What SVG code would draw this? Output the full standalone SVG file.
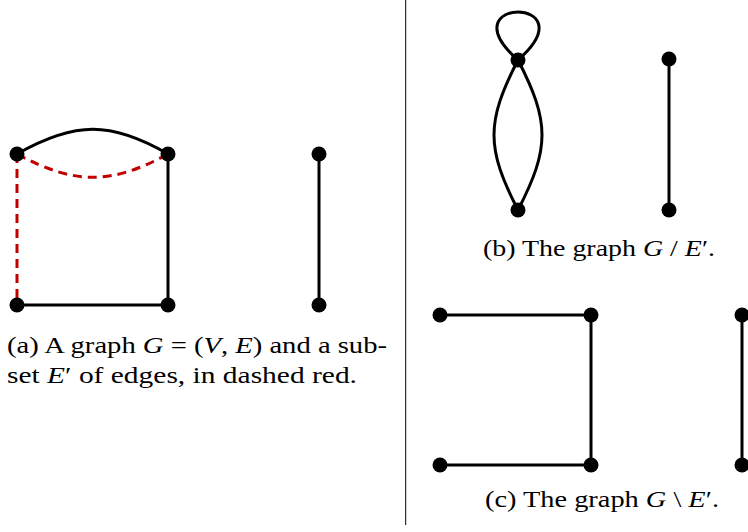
<svg xmlns="http://www.w3.org/2000/svg" width="748" height="532" viewBox="0 0 748 532">
<style>
.e{fill:none;stroke:#000;stroke-width:3}
.d{fill:none;stroke:#bf0000;stroke-width:3;stroke-dasharray:9 6}
.n{fill:#000}
.t{font-family:"Liberation Serif","DejaVu Serif",serif;font-size:23px;fill:#000}
.i{font-style:italic}
</style>
<rect width="748" height="532" fill="#fff"/>
<line x1="405.7" y1="0" x2="405.7" y2="525" stroke="#000" stroke-width="1"/>
<g id="connectors">
<path class="e" d="M17,154 C75,121 111,121 168,154"/>
<path class="d" d="M17,154 C75,185 111,185 168,154"/>
<path class="d" d="M17,154 L17,305"/>
<path class="e" d="M168,154 L168,305"/>
<path class="e" d="M17,305 L168,305"/>
<path class="e" d="M319,154 L319,305"/>
<path class="e" d="M518,60 C445,-4 591,-4 518,60"/>
<path class="e" d="M518,60 C486,122 486,148 518,210"/>
<path class="e" d="M518,60 C550,122 550,148 518,210"/>
<path class="e" d="M669,59 L669,210"/>
<path class="e" d="M440,315 L591,315"/>
<path class="e" d="M591,315 L591,465"/>
<path class="e" d="M440,465 L591,465"/>
<path class="e" d="M742,315 L742,465"/>
</g>
<g id="node-a1"><circle class="n" cx="17" cy="154" r="7.5"/></g>
<g id="node-a2"><circle class="n" cx="168" cy="154" r="7.5"/></g>
<g id="node-a3"><circle class="n" cx="17" cy="305" r="7.5"/></g>
<g id="node-a4"><circle class="n" cx="168" cy="305" r="7.5"/></g>
<g id="node-a5"><circle class="n" cx="319" cy="154" r="7.5"/></g>
<g id="node-a6"><circle class="n" cx="319" cy="305" r="7.5"/></g>
<g id="node-b1"><circle class="n" cx="518" cy="60" r="7.5"/></g>
<g id="node-b2"><circle class="n" cx="518" cy="210" r="7.5"/></g>
<g id="node-b3"><circle class="n" cx="669" cy="59" r="7.5"/></g>
<g id="node-b4"><circle class="n" cx="669" cy="210" r="7.5"/></g>
<g id="node-c1"><circle class="n" cx="440" cy="315" r="7.5"/></g>
<g id="node-c2"><circle class="n" cx="591" cy="315" r="7.5"/></g>
<g id="node-c3"><circle class="n" cx="440" cy="465" r="7.5"/></g>
<g id="node-c4"><circle class="n" cx="591" cy="465" r="7.5"/></g>
<g id="node-c5"><circle class="n" cx="742" cy="315" r="7.5"/></g>
<g id="node-c6"><circle class="n" cx="742" cy="465" r="7.5"/></g>
<g id="captions">
<text class="t" x="7" y="353" textLength="380" lengthAdjust="spacingAndGlyphs">(a) A graph <tspan class="i">G</tspan> = (<tspan class="i">V</tspan>, <tspan class="i">E</tspan>) and a sub-</text>
<text class="t" x="7" y="383" textLength="350" lengthAdjust="spacingAndGlyphs">set <tspan class="i">E</tspan>′ of edges, in dashed red.</text>
<text class="t" x="483" y="256" textLength="232" lengthAdjust="spacingAndGlyphs">(b) The graph <tspan class="i">G</tspan> / <tspan class="i">E</tspan>′.</text>
<text class="t" x="485" y="507" textLength="234" lengthAdjust="spacingAndGlyphs">(c) The graph <tspan class="i">G</tspan> \ <tspan class="i">E</tspan>′.</text>
</g>
</svg>
